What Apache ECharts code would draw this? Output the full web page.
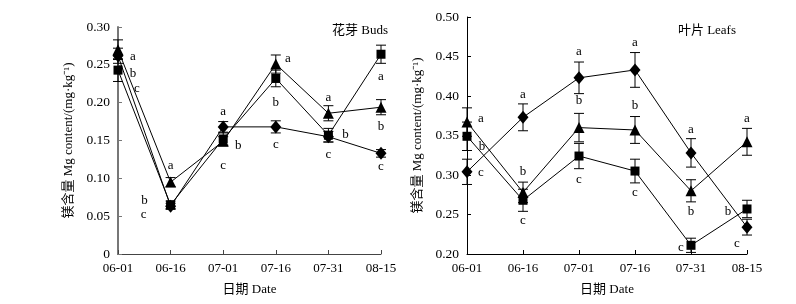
<!DOCTYPE html>
<html>
<head>
<meta charset="utf-8">
<script src="https://cdn.jsdelivr.net/npm/echarts@6/dist/echarts.min.js"></script>
<style>
html, body { margin: 0; padding: 0; background: #fff; }
#main { width: 796px; height: 304px; }
</style>
</head>
<body>
<div id="main"></div>
<script>
var dates = ['06-01', '06-16', '07-01', '07-16', '07-31', '08-15'];

// 花芽 Buds
var budTri = [0.270, 0.095, 0.149, 0.251, 0.186, 0.194];
var budSq = [0.243, 0.065, 0.152, 0.232, 0.157, 0.264];
var budDia = [0.262, 0.063, 0.168, 0.168, 0.155, 0.133];
var budTriErr = [0.013, 0.006, 0.006, 0.012, 0.010, 0.010];
var budSqErr = [0.015, 0.005, 0.008, 0.011, 0.009, 0.012];
var budDiaErr = [0.010, 0.004, 0.007, 0.008, 0.007, 0.005];
var budTriLetters = ['a', 'a', 'c', 'a', 'a', 'b'];
var budSqLetters = ['c', 'b', 'b', 'b', 'b', 'a'];
var budDiaLetters = ['b', 'c', 'a', 'c', 'c', 'c'];

// 叶片 Leafs
var leafTri = [0.367, 0.278, 0.360, 0.357, 0.280, 0.342];
var leafSq = [0.349, 0.268, 0.324, 0.305, 0.211, 0.257];
var leafDia = [0.304, 0.373, 0.423, 0.433, 0.328, 0.234];
var leafTriErr = [0.018, 0.013, 0.018, 0.017, 0.014, 0.017];
var leafSqErr = [0.018, 0.014, 0.016, 0.015, 0.009, 0.011];
var leafDiaErr = [0.016, 0.017, 0.020, 0.022, 0.018, 0.010];
var leafTriLetters = ['a', 'b', 'b', 'b', 'b', 'a'];
var leafSqLetters = ['b', 'c', 'c', 'c', 'c', 'b'];
var leafDiaLetters = ['c', 'a', 'a', 'a', 'a', 'c'];

// letter placement, pixels from the marker centre
var budTriOff = [[15, 7], [0, -17], [0, 24], [12, -5], [0, -16], [0, 19]];
var budSqOff = [[19, 18], [-26, -4], [15, 7], [0, 24], [17, -1], [0, 22]];
var budDiaOff = [[15, 18], [-27, 8], [0, -15], [0, 18], [0, 18], [0, 13]];
var leafTriOff = [[14, -3], [0, -21], [0, -27], [0, -24], [0, 21], [0, -23]];
var leafSqOff = [[15, 10], [0, 20], [0, 24], [0, 22], [-10, 2], [-19, 3]];
var leafDiaOff = [[14, 1], [0, -23], [0, -26], [0, -27], [0, -23], [-10, 16]];

var serif = '"Liberation Serif", "Noto Sans CJK SC", serif';
var yName = '镁含量 Mg content/(mg·kg⁻¹)';

function points(vals, letters, offs) {
	return vals.map(function (v, i) {
		return {
			value: v,
			label: {
				show: true,
				formatter: letters[i],
				position: 'inside',
				offset: offs[i],
				color: '#000',
				fontFamily: serif,
				fontSize: 13
			}
		};
	});
}

function errData(vals, errs) {
	return vals.map(function (v, i) {
		return [i, v - errs[i], v + errs[i]];
	});
}

function errorBar(params, api) {
	var top = api.coord([api.value(0), api.value(2)]);
	var bot = api.coord([api.value(0), api.value(1)]);
	var w = 5;
	var st = { stroke: '#000', lineWidth: 1 };
	return {
		type: 'group',
		children: [
			{ type: 'line', shape: { x1: top[0], y1: top[1], x2: bot[0], y2: bot[1] }, style: st },
			{ type: 'line', shape: { x1: top[0] - w, y1: top[1], x2: top[0] + w, y2: top[1] }, style: st },
			{ type: 'line', shape: { x1: bot[0] - w, y1: bot[1], x2: bot[0] + w, y2: bot[1] }, style: st }
		]
	};
}

function lineSeries(idx, vals, letters, offs, symbol, size) {
	return {
		type: 'line',
		xAxisIndex: idx,
		yAxisIndex: idx,
		symbol: symbol,
		symbolSize: size,
		showAllSymbol: true,
		z: 3,
		itemStyle: { color: '#000' },
		lineStyle: { color: '#000', width: 1 },
		emphasis: { disabled: true },
		animation: false,
		data: points(vals, letters, offs)
	};
}

function errSeries(idx, vals, errs) {
	return {
		type: 'custom',
		xAxisIndex: idx,
		yAxisIndex: idx,
		z: 2,
		renderItem: errorBar,
		animation: false,
		data: errData(vals, errs)
	};
}

function xAxisFor(idx, color) {
	return {
		type: 'category',
		gridIndex: idx,
		data: dates,
		boundaryGap: false,
		name: '日期 Date',
		nameLocation: 'middle',
		nameGap: 29,
		nameTextStyle: { color: '#000', fontFamily: serif, fontSize: 13 },
		axisLine: { lineStyle: { color: color, width: 1 } },
		axisTick: { inside: true, length: 4, lineStyle: { color: color } },
		axisLabel: { color: '#000', fontFamily: serif, fontSize: 13, margin: 8 },
		splitLine: { show: false }
	};
}

function yAxisFor(idx, min, max, color, width) {
	return {
		type: 'value',
		gridIndex: idx,
		min: min,
		max: max,
		interval: 0.05,
		name: yName,
		nameLocation: 'middle',
		nameGap: 43,
		nameTextStyle: { color: '#000', fontFamily: serif, fontSize: 13 },
		axisLine: { show: true, lineStyle: { color: color, width: width } },
		axisTick: { show: true, inside: true, length: 4, lineStyle: { color: color } },
		axisLabel: {
			color: '#000', fontFamily: serif, fontSize: 13.5, margin: 8,
			formatter: function (v) { return v === 0 ? '0' : v.toFixed(2); }
		},
		splitLine: { show: false }
	};
}

var myChart = echarts.init(document.getElementById('main'));

option = {
	backgroundColor: '#fff',
	animation: false,
	title: [{
		text: '花芽 Buds',
		right: 403,
		top: 19,
		textStyle: { color: '#000', fontFamily: serif, fontSize: 13, fontWeight: 'normal' }
	}, {
		text: '叶片 Leafs',
		right: 55,
		top: 19,
		textStyle: { color: '#000', fontFamily: serif, fontSize: 13, fontWeight: 'normal' }
	}],
	grid: [
		{ left: 118, top: 27, width: 263, height: 227 },
		{ left: 467, top: 17, width: 280, height: 237 }
	],
	xAxis: [xAxisFor(0, '#444'), xAxisFor(1, '#000')],
	yAxis: [yAxisFor(0, 0, 0.3, '#777', 2), yAxisFor(1, 0.2, 0.5, '#000', 1)],
	series: [
		errSeries(0, budDia, budDiaErr),
		errSeries(0, budTri, budTriErr),
		errSeries(0, budSq, budSqErr),
		lineSeries(0, budDia, budDiaLetters, budDiaOff, 'diamond', [11, 13]),
		lineSeries(0, budTri, budTriLetters, budTriOff, 'triangle', 11),
		lineSeries(0, budSq, budSqLetters, budSqOff, 'rect', 9),
		errSeries(1, leafDia, leafDiaErr),
		errSeries(1, leafTri, leafTriErr),
		errSeries(1, leafSq, leafSqErr),
		lineSeries(1, leafDia, leafDiaLetters, leafDiaOff, 'diamond', [11, 13]),
		lineSeries(1, leafTri, leafTriLetters, leafTriOff, 'triangle', 11),
		lineSeries(1, leafSq, leafSqLetters, leafSqOff, 'rect', 9)
	]
};

myChart.setOption(option);
</script>
</body>
</html>
